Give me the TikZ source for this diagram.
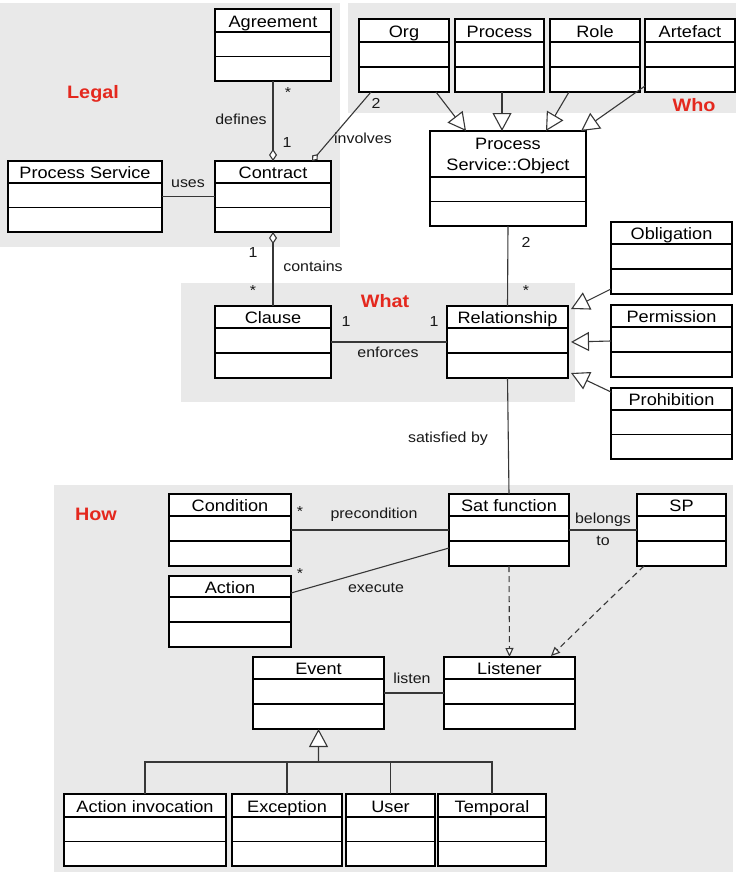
\documentclass[tikz,border=0pt]{standalone}
\usepackage{fontspec}
\setmainfont{Liberation Sans}[FakeStretch=1.1]
\usetikzlibrary{arrows.meta,calc}
\definecolor{regiongray}{RGB}{233,233,233}
\definecolor{regionred}{RGB}{228,40,30}
\definecolor{linegray}{RGB}{55,55,55}
\tikzset{
  clsbox/.style={draw=black, fill=white, line width=1.2bp, inner sep=0pt, outer sep=0pt},
  clsline/.style={draw=black, line width=1.1bp},
  clstitle/.style={anchor=base, inner sep=0pt, font=\fontsize{16.5bp}{19bp}\selectfont},
  lbl/.style={inner sep=0pt, font=\fontsize{14.5bp}{17bp}\selectfont, text=black!90},
  regionlabel/.style={inner sep=0pt, font=\fontsize{18bp}{21bp}\selectfont\bfseries, text=regionred},
  conn/.style={draw=linegray, line width=1.1bp},
  gen/.style={conn, -{Triangle[open, length=18bp, width=19bp, fill=white]}},
  agg/.style={conn, -{Diamond[open, length=12bp, width=8bp, fill=white]}},
  dep/.style={conn, dash pattern=on 6bp off 4bp, -{Triangle[open, length=9bp, width=8bp, fill=white]}},
}
% name, x, y, width, height, header height, title baseline offset, title
\newcommand{\umlclass}[8]{%
  \node[clsbox, anchor=north west, minimum width=#4bp, minimum height=#5bp] (#1) at (#2,#3) {};
  \draw[clsline] ($(#1.north west)+(0,#6)$) -- ($(#1.north east)+(0,#6)$);
  \draw[clsline] ($(#1.north west)+(0,{#6+(#5-#6)/2})$) -- ($(#1.north east)+(0,{#6+(#5-#6)/2})$);
  \node[clstitle] (#1-title) at ($(#1.north)+(0,#7)$) {#8};
}
\begin{document}
\begin{tikzpicture}[x=1bp, y=-1bp]
\useasboundingbox (0,0) rectangle (736,873);
\fill[white] (0,0) rectangle (736,873);
% regions
\fill[regiongray] (0,3) rectangle (340,247);
\fill[regiongray] (348,3) rectangle (736,113);
\fill[regiongray] (181,283) rectangle (575,402);
\fill[regiongray] (54,485) rectangle (733,872);
\node[regionlabel] (legal) at (93,94) {Legal};
\node[regionlabel] (who) at (694,105) {Who};
\node[regionlabel] (what) at (385,301) {What};
\node[regionlabel] (how) at (96,514) {How};

% classes
\umlclass{agreement}{215}{9}{116}{72}{23}{18}{Agreement}
\umlclass{contract}{215}{161}{116}{71}{22}{17}{Contract}
\umlclass{procservice}{8}{161}{154}{71}{22}{17}{Process Service}
\umlclass{org}{359}{19}{90}{73}{23}{18}{Org}
\umlclass{process}{455}{19}{89}{73}{23}{18}{Process}
\umlclass{role}{550}{19}{90}{73}{23}{18}{Role}
\umlclass{artefact}{645}{19}{90}{73}{23}{18}{Artefact}
\umlclass{pso}{430}{131}{156}{95}{46}{18}{Process}
\node[clstitle] (pso-title2) at ($(pso.north)+(0,39)$) {Service::Object};
\umlclass{obligation}{611}{222}{121}{72}{22}{17}{Obligation}
\umlclass{permission}{611}{305}{121}{72}{22}{17}{Permission}
\umlclass{prohibition}{611}{388}{121}{71}{22}{17}{Prohibition}
\umlclass{clause}{215}{306}{116}{72}{22}{17}{Clause}
\umlclass{relationship}{447}{306}{121}{72}{22}{17}{Relationship}
\umlclass{condition}{169}{494}{122}{72}{22}{17}{Condition}
\umlclass{action}{169}{576}{122}{71}{21}{17}{Action}
\umlclass{satfn}{449}{494}{120}{72}{22}{17}{Sat function}
\umlclass{sp}{637}{494}{89}{72}{22}{17}{SP}
\umlclass{listener}{444}{657}{131}{72}{22}{17}{Listener}
\umlclass{event}{253}{657}{131}{72}{22}{17}{Event}
\umlclass{actinv}{64}{794}{162}{72}{23}{18}{Action invocation}
\umlclass{exception}{232}{794}{110}{72}{23}{18}{Exception}
\umlclass{user}{346}{794}{89}{72}{23}{18}{User}
\umlclass{temporal}{438}{794}{108}{72}{23}{18}{Temporal}

% Legal connectors
\draw[agg] (agreement.south) -- (contract.north);
\draw[conn] (procservice.east) -- (contract.west);
\draw[conn, -{Diamond[open, length=9bp, width=7bp, fill=white]}] ($(org.south west)+(12,0)$) -- ($(contract.north west)+(97,0)$);
\draw[conn, {Diamond[open, length=12bp, width=8bp, fill=white]}-] (contract.south) -- (clause.north);
\node[lbl] (m-agr) at (288,93) {*};
\node[lbl] (m-con1) at (287,143) {1};
\node[lbl] (l-defines) at (241,119) {defines};
\node[lbl] (l-uses) at (188,184) {uses};
\node[lbl] (m-org2) at (376,103) {2};
\node[lbl] (l-involves) at (363,138) {involves};
\node[lbl] (m-con2) at (253,253) {1};
\node[lbl] (l-contains) at (313,266) {contains};
\node[lbl] (m-cl1) at (253,291) {*};

% Who generalizations
\draw[gen] ($(org.south west)+(77,0)$) -- ($(pso.north west)+(36,0)$);
\draw[gen] ($(process.south west)+(47,0)$) -- ($(pso.north west)+(72,0)$);
\draw[gen] ($(role.south west)+(19,0)$) -- ($(pso.north west)+(116,0)$);
\draw[gen] ($(artefact.south west)+(0,-6)$) -- ($(pso.north east)+(-5,0)$);

% What
\draw[conn] (pso.south) -- (relationship.north);
\node[lbl] (m-pso2) at (526,242) {2};
\node[lbl] (m-rel) at (526,291) {*};
\draw[conn] (clause.east) -- (relationship.west);
\node[lbl] (m-cl2) at (346,322) {1};
\node[lbl] (m-rel2) at (434,322) {1};
\node[lbl] (l-enforces) at (388,352) {enforces};
\draw[gen] ($(obligation.south west)+(0,-5)$) -- ($(relationship.north east)+(3,3)$);
\draw[gen] (permission.west) -- ($(relationship.east)+(3,0)$);
\draw[gen] ($(prohibition.north west)+(0,4)$) -- ($(relationship.south east)+(3,-5)$);

% How
\draw[conn] (relationship.south) -- (satfn.north);
\node[lbl] (l-satby) at (448,439) {satisfied by};
\draw[conn] (condition.east) -- (satfn.west);
\node[lbl] (m-cond) at (300,512) {*};
\node[lbl] (l-precond) at (374,515) {precondition};
\draw[conn] ($(action.north east)+(0,17)$) -- ($(satfn.north west)+(0,54)$);
\node[lbl] (m-act) at (300,574) {*};
\node[lbl] (l-execute) at (376,588) {execute};
\draw[conn] (satfn.east) -- (sp.west);
\node[lbl] (l-belongs) at (603,520) {belongs};
\node[lbl] (l-to) at (603,541) {to};
\draw[dep] (satfn.south) -- (listener.north);
\draw[dep] ($(sp.south west)+(7,0)$) -- ($(listener.north east)+(-24,-1)$);
\draw[conn] (event.east) -- (listener.west);
\node[lbl] (l-listen) at (412,678) {listen};

% Event generalization tree
\coordinate (gj) at (318.5,762);
\draw[gen] (gj) -- (event.south);
\draw[conn] (actinv.north) |- (gj) -| (temporal.north);
\draw[conn] (exception.north) -- (exception.north |- gj);
\draw[conn] (user.north) -- (user.north |- gj);
\end{tikzpicture}
\end{document}
